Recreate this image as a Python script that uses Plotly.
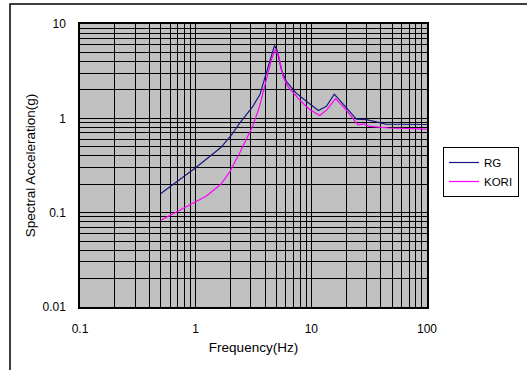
import plotly.graph_objects as go

freq_rg = [0.5, 1.0, 1.65, 2.05, 2.4, 3.1, 3.6, 4.35, 4.8, 5.05, 5.5, 6.1, 7.4, 9.35, 11.5, 13.5, 15.8, 17.5, 20, 24.5, 30, 44, 100]
sa_rg = [0.16, 0.30, 0.49, 0.67, 0.89, 1.32, 1.8, 3.9, 5.9, 5.3, 3.3, 2.45, 1.85, 1.47, 1.21, 1.34, 1.8, 1.57, 1.29, 0.98, 0.97, 0.87, 0.86]

freq_kori = [0.5, 1.0, 1.24, 1.65, 1.97, 2.22, 2.4, 3.13, 3.57, 4.08, 4.52, 4.9, 5.25, 5.69, 6.25, 7.9, 9.6, 11.8, 13.6, 16.2, 20, 25.3, 28.3, 31.9, 47, 100]
sa_kori = [0.083, 0.13, 0.15, 0.20, 0.27, 0.36, 0.43, 0.84, 1.34, 2.57, 4.17, 5.4, 4.5, 2.78, 2.18, 1.57, 1.25, 1.07, 1.23, 1.62, 1.23, 0.855, 0.875, 0.82, 0.79, 0.77]

x_decades = [0.1, 1, 10, 100]
x_labels = ["0.1", "1", "10", "100"]
y_decades = [0.01, 0.1, 1, 10]
y_labels = ["0.01", "0.1", "1", "10"]

def grid_vals(decades):
    vals = []
    for d in decades[:-1]:
        for m in range(1, 10):
            vals.append(d * m)
    vals.append(decades[-1])
    return vals

xv = grid_vals(x_decades)
yv = grid_vals(y_decades)
xt = [x_labels[x_decades.index(v)] if v in x_decades else "" for v in xv]
yt = [y_labels[y_decades.index(v)] if v in y_decades else "" for v in yv]

font = "Liberation Sans, Arial, sans-serif"

fig = go.Figure()
fig.add_trace(go.Scatter(x=freq_rg, y=sa_rg, mode="lines", name="RG",
                         line=dict(color="#1a1a80", width=1.2)))
fig.add_trace(go.Scatter(x=freq_kori, y=sa_kori, mode="lines", name="KORI",
                         line=dict(color="#ff00ff", width=1.2)))

axis_common = dict(showgrid=True, gridcolor="#000000", gridwidth=1,
                   showline=True, linecolor="#000000", linewidth=1.5, mirror=True,
                   ticks="", zeroline=False,
                   tickfont=dict(family=font, size=12, color="#000000"))

fig.update_xaxes(type="log", range=[-1, 2], tickmode="array", tickvals=xv, ticktext=xt,
                 ticklabelstandoff=10,
                 title=dict(text="Frequency(Hz)", font=dict(family=font, size=13.5, color="#000000"), standoff=7),
                 **axis_common)
fig.update_yaxes(type="log", range=[-2, 1], tickmode="array", tickvals=yv, ticktext=yt,
                 ticklabelstandoff=10,
                 title=dict(text="Spectral Acceleration(g)", font=dict(family=font, size=13.5, color="#000000"), standoff=4),
                 **axis_common)

fig.add_shape(type="rect", xref="paper", yref="paper",
              x0=(10 - 80) / 347, x1=(560 - 80) / 347,
              y0=(307 - 400) / 283, y1=(307 - 4) / 283,
              line=dict(color="#000000", width=1.5), fillcolor="rgba(0,0,0,0)", layer="below")

fig.update_layout(
    width=527, height=370,
    margin=dict(l=80, r=100, t=24, b=63, autoexpand=False),
    plot_bgcolor="#c0c0c0", paper_bgcolor="#ffffff",
    showlegend=True,
    legend=dict(x=(519 - 80) / 347, y=(307 - 147) / 283, xanchor="right", yanchor="top",
                bordercolor="#000000", borderwidth=1, bgcolor="#ffffff",
                font=dict(family=font, size=11.5, color="#000000"),
                tracegroupgap=0, itemwidth=30),
)

fig.write_html("out.html")
